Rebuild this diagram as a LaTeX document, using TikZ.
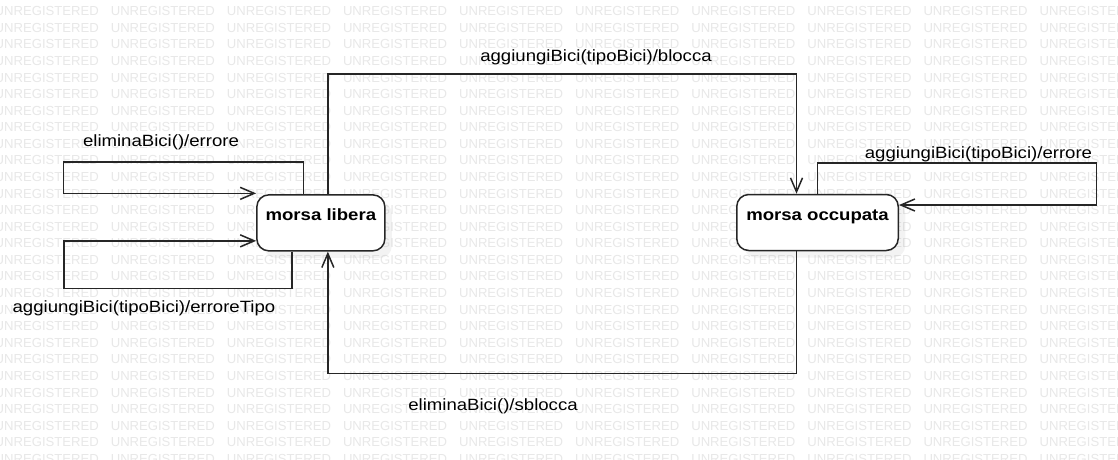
\documentclass[tikz,border=0pt]{standalone}
\usepackage{fontspec}
\setmainfont{Liberation Sans}
\newfontfamily\lblfont{Liberation Sans}[FakeStretch=1.14]
\usepackage{tikz}
\usetikzlibrary{arrows.meta,shadows}

\begin{document}
\begin{tikzpicture}[x=1pt,y=-1pt,
    wm/.style={inner sep=0pt,anchor=base west,text=black!9,font=\fontsize{13.1}{14}\selectfont},
    stato/.style={draw=black!85,line width=1.5pt,rounded corners=12pt,fill=white,
      minimum width=128pt,minimum height=56pt,inner sep=0pt,text height=12pt,text depth=16pt,
      font=\lblfont\bfseries\fontsize{16.3}{18}\selectfont,
      drop shadow={shadow xshift=7pt,shadow yshift=-7pt,opacity=0.09}},
    trans/.style={draw=black!85,line width=1.5pt,-{Straight Barb[length=14pt,width=12pt,line width=1.5pt]}},
    lbl/.style={inner sep=0pt,anchor=base,font=\lblfont\fontsize{16.3}{18}\selectfont}]
  \useasboundingbox[fill=white] (0,0) rectangle (1118,459);
  % watermark
  \foreach \r in {0,...,27} { \foreach \c in {0,...,9} {
    \node[wm] (wm-\r-\c) at (-5.5+116.1*\c,15.7+16.58*\r) {UNREGISTERED}; } }
  \node[stato] (libera) at (320.85,222.85) {morsa libera};
  \node[stato,minimum width=161.5pt] (occupata) at (817.5,222.5) {morsa occupata};
  \draw[trans] ([xshift=7pt]libera.north) -- ++(0,-120) -| ([xshift=-21pt]occupata.north);
  \draw[trans] ([xshift=-21pt]occupata.south) -- ++(0,122) -| ([xshift=7pt]libera.south);
  \draw[trans] (occupata.north) -- ++(0,-31) -- ++(279,0) |- ([yshift=17.5pt]occupata.east);
  \draw[trans] ([xshift=-17.5pt]libera.north) -- ++(0,-32) -- ++(-240,0) |- ([yshift=29.5pt]libera.west);
  \draw[trans] ([xshift=-29pt]libera.south) -- ++(0,37) -- ++(-228,0) |- ([yshift=-18pt]libera.west);
  \node[lbl] (lblocca) at (596,61.7) {aggiungiBici(tipoBici)/blocca};
  \node[lbl] (lsblocca) at (493,410.7) {eliminaBici()/sblocca};
  \node[lbl] (lerrore) at (978.5,158.3) {aggiungiBici(tipoBici)/errore};
  \node[lbl] (lelimina) at (161,146) {eliminaBici()/errore};
  \node[lbl] (ltipo) at (144,312.5) {aggiungiBici(tipoBici)/erroreTipo};
\end{tikzpicture}
\end{document}
